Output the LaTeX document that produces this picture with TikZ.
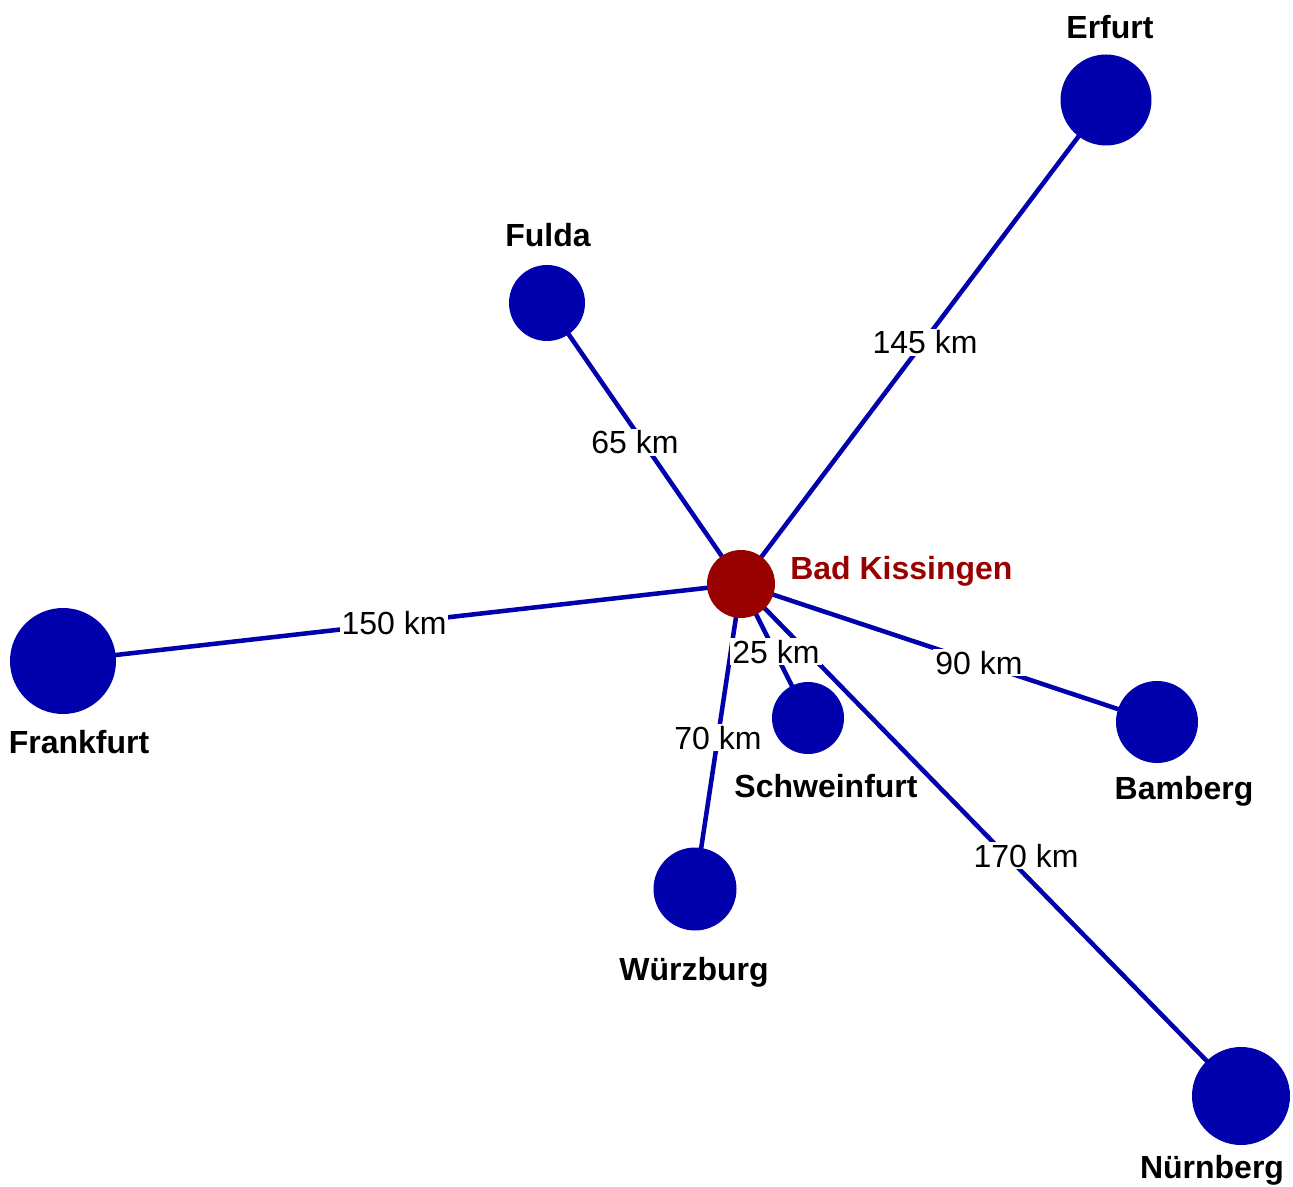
\documentclass[tikz,border=0pt]{standalone}
\usepackage{fontspec}
\setmainfont{Liberation Sans}
\usetikzlibrary{backgrounds}
\definecolor{cityblue}{RGB}{0,0,172}
\definecolor{hubred}{RGB}{153,0,0}
\tikzset{
  city/.style={circle, fill=cityblue, draw=none, inner sep=0pt, minimum size=#1*1.5pt},
  hub/.style={circle, fill=hubred, draw=none, inner sep=0pt, minimum size=#1*1.5pt},
  road/.style={draw=cityblue, line width=3.4pt},
  cityname/.style={anchor=base, font=\fontsize{24}{28}\selectfont\bfseries, text=black, inner sep=0pt},
  dist/.style={anchor=base, font=\fontsize{24}{28}\selectfont, text=black, fill=white, inner sep=1.5pt}
}
\begin{document}
\begin{tikzpicture}[x=0.75pt, y=-0.75pt]
\useasboundingbox (0,0) rectangle (1293,1187);
% nodes
\node[hub=34] (bk) at (741,584) {};
\node[city=45.5] (erf) at (1106,100) {};
\node[city=38] (ful) at (547,303) {};
\node[city=53] (fra) at (63,661) {};
\node[city=36] (sch) at (808,718) {};
\node[city=41] (bam) at (1157,722) {};
\node[city=41.5] (wue) at (695,889) {};
\node[city=49] (nue) at (1241,1096) {};
% connectors
\begin{scope}[on background layer]
\draw[road] (bk.center) -- (erf.center);
\draw[road] (bk.center) -- (ful.center);
\draw[road] (bk.center) -- (fra.center);
\draw[road] (bk.center) -- (sch.center);
\draw[road] (bk.center) -- (bam.center);
\draw[road] (bk.center) -- (wue.center);
\draw[road] (bk.center) -- (nue.center);
\end{scope}
% distance labels
\node[dist] (d145) at (925,354) {145 km};
\node[dist] (d65) at (635,454) {65 km};
\node[dist] (d150) at (394,634) {150 km};
\node[dist] (d25) at (776,663) {25 km};
\node[dist] (d90) at (979,674) {90 km};
\node[dist] (d70) at (718,749) {70 km};
\node[dist] (d170) at (1026,867) {170 km};
% city names
\node[cityname, anchor=base west, text=hubred] (lbk) at (790,580) {Bad Kissingen};
\node[cityname] (lerf) at (1110,39) {Erfurt};
\node[cityname] (lful) at (548,247) {Fulda};
\node[cityname] (lfra) at (79,753) {Frankfurt};
\node[cityname] (lsch) at (826,797) {Schweinfurt};
\node[cityname] (lbam) at (1184,799) {Bamberg};
\node[cityname] (lwue) at (694,980) {Würzburg};
\node[cityname] (lnue) at (1212,1178) {Nürnberg};
\end{tikzpicture}
\end{document}
